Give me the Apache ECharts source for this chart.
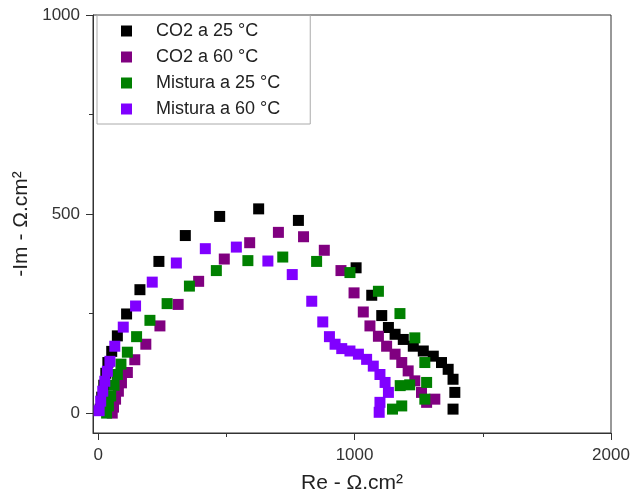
<!DOCTYPE html>
<html><head><meta charset="utf-8">
<script src="https://cdn.jsdelivr.net/npm/echarts@6/dist/echarts.min.js"></script>
<style>html,body{margin:0;padding:0;background:#fff}#c{width:630px;height:500px}</style>
</head><body><div id="c"></div>
<script>
const seriesNames = ['CO2 a 25 °C', 'CO2 a 60 °C', 'Mistura a 25 °C', 'Mistura a 60 °C'];
const seriesColors = ['#000000', '#800080', '#008000', '#8000ff'];

const co2_25_x = [8, 14, 22, 30, 38, 53, 75, 111, 163, 237, 340, 474, 626, 781, 1006, 1067, 1106, 1132, 1158, 1190, 1229, 1268, 1307, 1339, 1365, 1384, 1391, 1384];
const co2_25_y = [10, 40, 70, 100, 127, 155, 194, 249, 310, 381, 446, 494, 513, 484, 365, 296, 245, 215, 198, 185, 168, 156, 143, 127, 110, 85, 52, 10];

const co2_60_x = [55, 60, 68, 79, 91, 114, 143, 186, 241, 312, 392, 492, 591, 703, 801, 882, 947, 998, 1034, 1060, 1093, 1125, 1158, 1184, 1209, 1235, 1261, 1281, 1313];
const co2_60_y = [0, 15, 35, 55, 76, 102, 134, 173, 219, 273, 331, 387, 428, 454, 443, 409, 358, 302, 254, 219, 193, 168, 148, 127, 106, 81, 52, 27, 35];

const mix_25_x = [33, 40, 49, 62, 75, 89, 114, 150, 202, 269, 356, 461, 584, 720, 852, 982, 1093, 1177, 1235, 1274, 1281, 1274, 1215, 1178, 1184, 1148];
const mix_25_y = [0, 18, 43, 70, 97, 123, 153, 192, 233, 275, 319, 358, 383, 392, 381, 353, 306, 250, 189, 127, 77, 35, 71, 69, 18, 10];

const mix_60_x = [4, 10, 18, 26, 36, 46, 65, 98, 146, 211, 305, 418, 539, 662, 757, 833, 876, 902, 924, 950, 982, 1015, 1047, 1073, 1099, 1119, 1132, 1099, 1096];
const mix_60_y = [6, 30, 55, 80, 105, 130, 168, 216, 269, 329, 377, 413, 417, 382, 348, 281, 229, 192, 173, 162, 156, 148, 135, 118, 97, 77, 52, 27, 2];

const xMajorTicks = [0, 1000, 2000];
const xMinorTicks = [500, 1500];
const yMajorTicks = [0, 500, 1000];
const yMinorTicks = [250, 750];

const allX = [co2_25_x, co2_60_x, mix_25_x, mix_60_x];
const allY = [co2_25_y, co2_60_y, mix_25_y, mix_60_y];

const FONT = 'Liberation Sans, Arial, sans-serif';
const AX = '#333';

function zip(xs, ys) { return xs.map((v, i) => [v, ys[i]]); }
const plain = v => String(v);

const chart = echarts.init(document.getElementById('c'), null, {renderer: 'canvas'});
chart.setOption({
  animation: false,
  backgroundColor: '#fff',
  grid: {left: 93, right: 19, top: 15, bottom: 67, containLabel: false, outerBoundsMode: 'none',
         show: true, borderColor: AX, borderWidth: 1, backgroundColor: 'transparent'},
  legend: {
    orient: 'vertical', left: 97, top: 15,
    data: seriesNames, icon: 'rect', itemWidth: 11, itemHeight: 11, itemGap: 8,
    padding: [7, 30, 6, 24], borderColor: '#aaa', borderWidth: 1,
    textStyle: {fontFamily: FONT, fontSize: 18, lineHeight: 18, color: '#222', padding: [0, 0, 0, 19]}
  },
  xAxis: [
    {
      type: 'value', min: -20, max: 2000, position: 'bottom',
      axisLine: {show: true, onZero: false, lineStyle: {color: AX, width: 1}},
      axisTick: {show: true, inside: false, length: 7, customValues: xMajorTicks, lineStyle: {color: AX}},
      axisLabel: {customValues: xMajorTicks, formatter: plain, margin: 14, fontFamily: FONT, fontSize: 17, color: '#333'},
      splitLine: {show: false},
      name: 'Re - Ω.cm²', nameLocation: 'middle', nameGap: 40,
      nameTextStyle: {fontFamily: FONT, fontSize: 21, color: '#222'}
    },
    {
      type: 'value', min: -20, max: 2000, position: 'bottom',
      axisLine: {show: false, onZero: false},
      axisTick: {show: true, inside: false, length: 4, customValues: xMinorTicks, lineStyle: {color: AX}},
      axisLabel: {show: false}, splitLine: {show: false}
    }
  ],
  yAxis: [
    {
      type: 'value', min: -50, max: 1000, position: 'left',
      axisLine: {show: true, onZero: false, lineStyle: {color: AX, width: 1}},
      axisTick: {show: true, inside: false, length: 7, customValues: yMajorTicks, lineStyle: {color: AX}},
      axisLabel: {customValues: yMajorTicks, formatter: plain, margin: 13, fontFamily: FONT, fontSize: 17, color: '#333'},
      splitLine: {show: false},
      name: '-Im - Ω.cm²', nameLocation: 'middle', nameGap: 47, nameRotate: 90,
      nameTextStyle: {fontFamily: FONT, fontSize: 21, color: '#222'}
    },
    {
      type: 'value', min: -50, max: 1000, position: 'left',
      axisLine: {show: false, onZero: false},
      axisTick: {show: true, inside: false, length: 4, customValues: yMinorTicks, lineStyle: {color: AX}},
      axisLabel: {show: false}, splitLine: {show: false}
    }
  ],
  series: seriesNames.map((n, i) => ({
    name: n, type: 'scatter', xAxisIndex: 0, yAxisIndex: 0,
    symbol: 'rect', symbolSize: 11,
    itemStyle: {color: seriesColors[i], opacity: 1},
    data: zip(allX[i], allY[i])
  }))
});
</script></body></html>
